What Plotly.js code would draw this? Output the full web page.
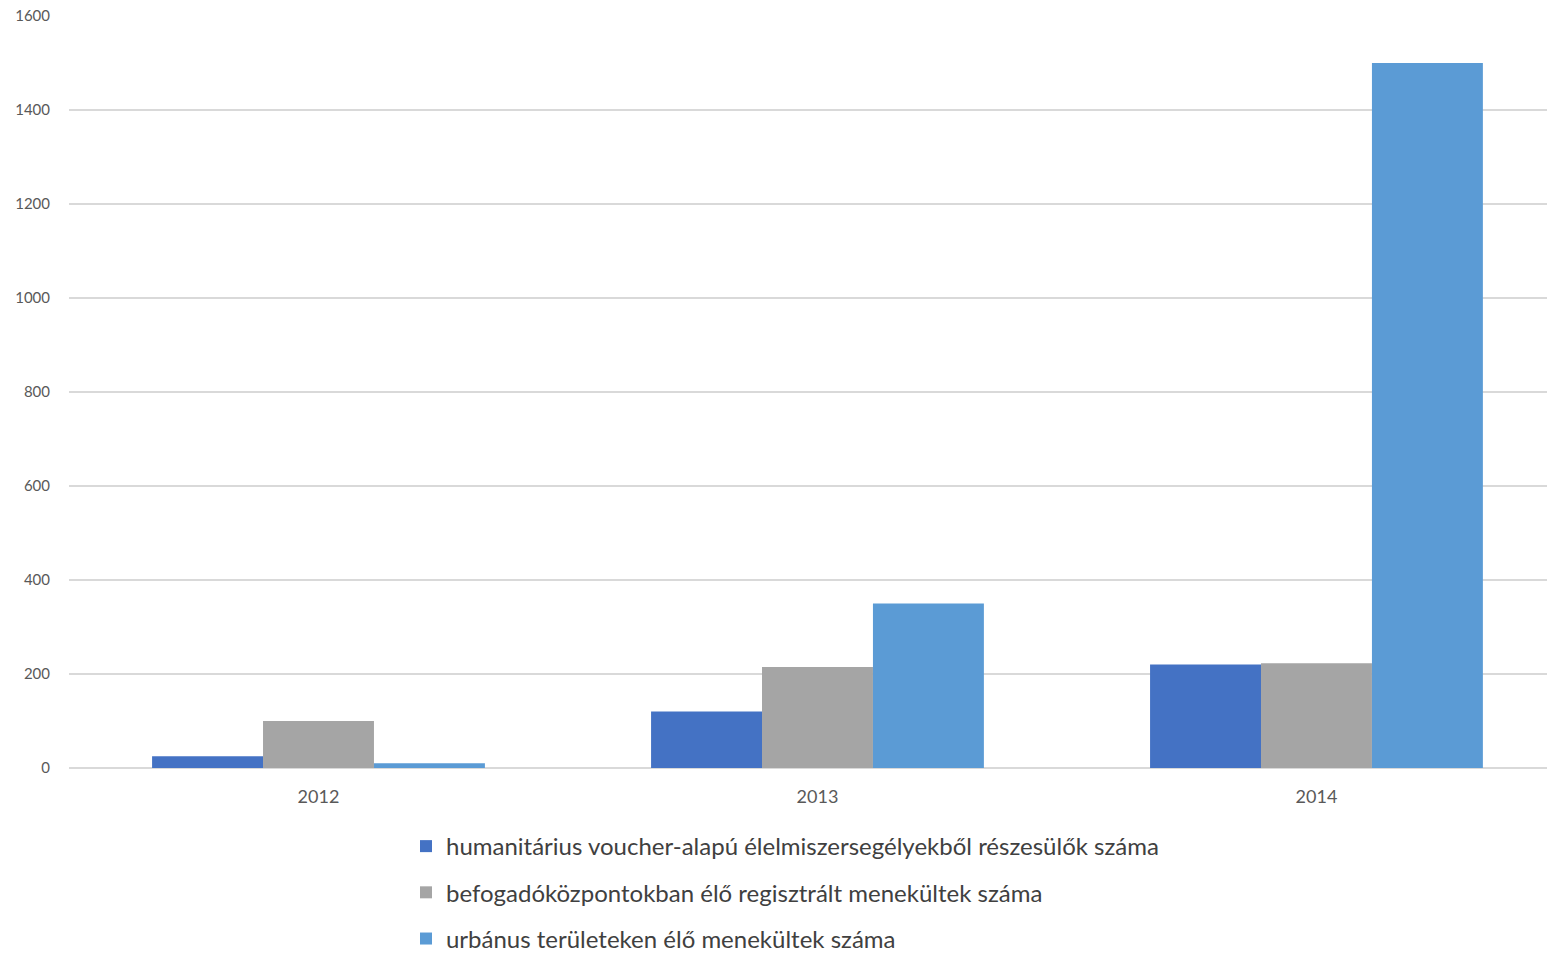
<!DOCTYPE html>
<html><head><meta charset="utf-8">
<script src="https://cdn.plot.ly/plotly-3.0.1.min.js"></script>
<style>html,body{margin:0;padding:0;background:#fff}#c{width:1547px;height:956px}</style>
</head><body><div id="c"></div>
<script>
var years = ['2012', '2013', '2014'];
var seriesNames = [
  'humanitárius voucher-alapú élelmiszersegélyekből részesülők száma',
  'befogadóközpontokban élő regisztrált menekültek száma',
  'urbánus területeken élő menekültek száma'
];
var voucher = [25, 120, 220];
var centers = [100, 215, 223];
var urban = [10, 350, 1500];
var colors = ['#4472c4', '#a5a5a5', '#5b9bd5'];

var vals = [voucher, centers, urban];
var traces = vals.map(function(v, i){
  return {type:'bar', x:years, y:v, name:seriesNames[i], legendgroup:'g'+i,
    marker:{color:colors[i], line:{width:0}}, hoverinfo:'y'};
});
var layout = {
  width:1547, height:956,
  margin:{l:69, r:0, t:16, b:188, autoexpand:false},
  paper_bgcolor:'#fff', plot_bgcolor:'#fff',
  font:{family:'Lato, sans-serif', color:'#595959'},
  bargap:0.333, bargroupgap:0, barmode:'group',
  xaxis:{type:'category', range:[-0.5, 2.462], showgrid:false, zeroline:false, showline:false,
    ticks:'', ticklabelstandoff:16, tickfont:{size:18, color:'#595959'}},
  yaxis:{range:[0,1600], dtick:200, showgrid:true, gridcolor:'#d9d9d9', gridwidth:1.5,
    zeroline:true, zerolinecolor:'#d9d9d9', zerolinewidth:1.5, ticks:'', ticklabelstandoff:18,
    tickfont:{size:15, color:'#595959'}},
  showlegend:true,
  legend:{orientation:'v', x:0.228, xanchor:'left', y:-0.0745, yanchor:'top',
    font:{size:24, color:'#404040'}, tracegroupgap:12, traceorder:'grouped', itemclick:false}
};
Plotly.newPlot('c', traces, layout, {displayModeBar:false, staticPlot:true});
</script></body></html>
